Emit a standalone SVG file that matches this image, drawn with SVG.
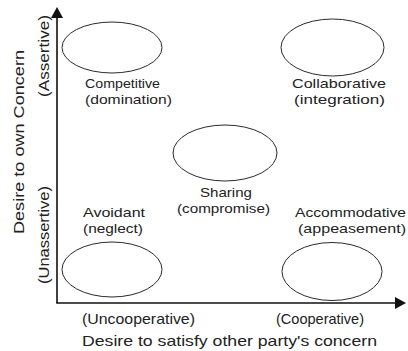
<svg xmlns="http://www.w3.org/2000/svg" width="408" height="351" viewBox="0 0 408 351">
<style>
text{font-family:"Liberation Sans",Arial,Helvetica,sans-serif;font-size:13.6px;fill:#222}
.ax{font-size:14.5px}
.ell{fill:none;stroke:#2a2a2a;stroke-width:1}
.axis{stroke:#111;stroke-width:1.6;fill:none}
</style>
<defs>
<marker id="arr" markerUnits="userSpaceOnUse" markerWidth="12" markerHeight="12" refX="0" refY="6" orient="auto">
<path d="M0,0 L11,6 L0,12 z" fill="#111"/>
</marker>
</defs>
<rect width="408" height="351" fill="#fff"/>
<g id="axes">
<line class="axis" x1="57" y1="303" x2="57" y2="18" marker-end="url(#arr)"/>
<line class="axis" x1="56.2" y1="303" x2="395" y2="303" marker-end="url(#arr)"/>
</g>
<g id="axis-labels">
<text class="ax" transform="translate(24,234) rotate(-90)" textLength="184" lengthAdjust="spacingAndGlyphs">Desire to own Concern</text>
<text class="ax" transform="translate(49,97) rotate(-90)" textLength="82" lengthAdjust="spacingAndGlyphs">(Assertive)</text>
<text class="ax" transform="translate(49,284) rotate(-90)" textLength="98" lengthAdjust="spacingAndGlyphs">(Unassertive)</text>
<text class="ax" x="82" y="324" textLength="113" lengthAdjust="spacingAndGlyphs">(Uncooperative)</text>
<text class="ax" x="276" y="324" textLength="88" lengthAdjust="spacingAndGlyphs">(Cooperative)</text>
<text class="ax" x="82" y="346" textLength="295" lengthAdjust="spacingAndGlyphs">Desire to satisfy other party's concern</text>
</g>
<g id="competitive">
<ellipse class="ell" cx="112" cy="47.5" rx="50" ry="25.5"/>
<text x="85" y="87.5" textLength="75" lengthAdjust="spacingAndGlyphs">Competitive</text>
<text x="85" y="103.5" textLength="87" lengthAdjust="spacingAndGlyphs">(domination)</text>
</g>
<g id="collaborative">
<ellipse class="ell" cx="332.5" cy="47.5" rx="51.5" ry="28.5"/>
<text x="292" y="87.5" textLength="94" lengthAdjust="spacingAndGlyphs">Collaborative</text>
<text x="294" y="103.5" textLength="91" lengthAdjust="spacingAndGlyphs">(integration)</text>
</g>
<g id="sharing">
<ellipse class="ell" cx="225" cy="153" rx="52" ry="28"/>
<text x="200" y="196.5" textLength="52" lengthAdjust="spacingAndGlyphs">Sharing</text>
<text x="177" y="213" textLength="93" lengthAdjust="spacingAndGlyphs">(compromise)</text>
</g>
<g id="avoidant">
<ellipse class="ell" cx="112" cy="269.5" rx="50" ry="27.5"/>
<text x="83" y="216.5" textLength="62" lengthAdjust="spacingAndGlyphs">Avoidant</text>
<text x="83" y="232.5" textLength="60" lengthAdjust="spacingAndGlyphs">(neglect)</text>
</g>
<g id="accommodative">
<ellipse class="ell" cx="332" cy="271.5" rx="50" ry="29"/>
<text x="295" y="216.5" textLength="111" lengthAdjust="spacingAndGlyphs">Accommodative</text>
<text x="298" y="232.5" textLength="108" lengthAdjust="spacingAndGlyphs">(appeasement)</text>
</g>
</svg>
